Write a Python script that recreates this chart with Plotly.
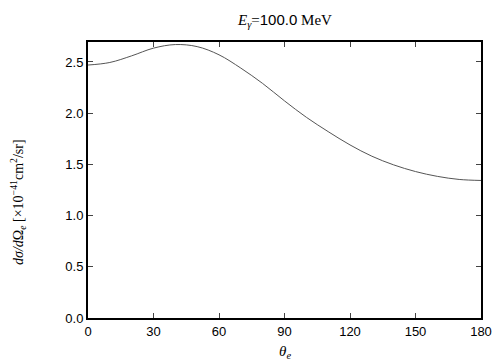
import plotly.graph_objects as go

theta = [0, 10, 20, 30, 40, 50, 60, 70, 80, 90, 100, 110, 120, 130, 140, 150, 160, 170, 180]
xsec = [2.47, 2.495, 2.56, 2.635, 2.67, 2.65, 2.57, 2.44, 2.29, 2.12, 1.96, 1.82, 1.69, 1.58, 1.495, 1.43, 1.383, 1.353, 1.343]

xticks = [0, 30, 60, 90, 120, 150, 180]
yticks = [0.0, 0.5, 1.0, 1.5, 2.0, 2.5]

fig = go.Figure()
fig.add_trace(go.Scatter(x=theta, y=xsec, mode="lines",
                         line=dict(color="#555555", width=1, shape="spline", smoothing=1.0),
                         showlegend=False))

axis_common = dict(showgrid=False, zeroline=False, showline=True, linecolor="black",
                   linewidth=2, mirror="ticks", ticks="inside", ticklen=5,
                   tickcolor="#444444", tickwidth=1,
                   tickfont=dict(family="Liberation Sans", size=13, color="black"))

fig.update_xaxes(range=[0, 180], tickvals=xticks, ticktext=[str(v) for v in xticks], **axis_common)
fig.update_yaxes(range=[0, 2.695], tickvals=yticks, ticktext=[f"{v:.1f}" for v in yticks], **axis_common)

fig.update_layout(
    width=504, height=360,
    margin=dict(l=80, r=31, t=34, b=50),
    paper_bgcolor="white", plot_bgcolor="white",
    annotations=[
        dict(text="<i>E<sub>γ</sub></i>=<span style='font-family:Liberation Sans'>100.0</span> MeV",
             xref="paper", yref="paper",
             x=0.5, y=1, yanchor="middle", yshift=22, showarrow=False,
             font=dict(family="Liberation Serif", size=15, color="black")),
        dict(text="<i>θ<sub>e</sub></i>", xref="paper", yref="paper",
             x=0.5, y=0, yanchor="middle", yshift=-34, showarrow=False,
             font=dict(family="Liberation Serif", size=15, color="black")),
        dict(text="<i>dσ/d</i>Ω<sub><i>e</i></sub> [×10<sup>−41</sup>cm<sup>2</sup>/sr]",
             xref="paper", yref="paper", x=0, y=0.5, xanchor="center", yanchor="middle",
             xshift=-70, yshift=-22, textangle=-90, showarrow=False,
             font=dict(family="Liberation Serif", size=14, color="black")),
    ],
)

fig.write_html("out.html")
